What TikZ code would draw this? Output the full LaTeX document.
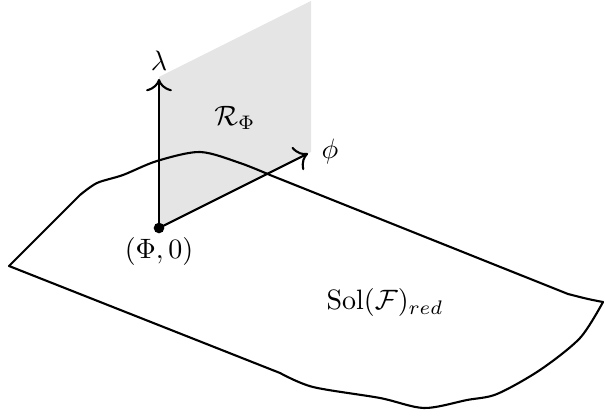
\documentclass[tikz,border=0pt]{standalone}
\usetikzlibrary{arrows.meta}
\begin{document}
\begin{tikzpicture}[x=0.357pt,y=-0.357pt,
  edge/.style={line width=0.75pt},
  axis/.style={line width=0.75pt,-{To[scale=1.35]}},
  lbl/.style={inner sep=0pt}]
\useasboundingbox (0,0) rectangle (605,416);
% plane
\fill[gray!20] (159,228) -- (159,77) -- (311,1) -- (311,152) -- cycle;
% surface
\draw[edge,line join=round]
  (9,266) -- (80,195)
  -- plot[smooth,tension=0.5] coordinates {(80,195) (97,183) (123,175) (157,161) (200,152) (240,163) (270,175)}
  -- (568,294)
  -- plot[smooth,tension=0.6] coordinates {(568,294) (588,299) (603,302)}
  -- plot[smooth,tension=0.5] coordinates {(603,302) (580,338) (540,370) (497,394) (467,400) (424,408) (380,398) (313,387) (280,373)}
  -- cycle;
% origin and axes
\node[circle,fill,inner sep=0pt,minimum size=3.8pt] (O) at (159,228) {};
\coordinate (L) at (159,79);
\coordinate (P) at (308,153.5);
\draw[axis] (O.center) -- (L);
\draw[axis] (O.center) -- (P);
% labels
\node[lbl] (lam) at (159,61) {$\lambda$};
\node[lbl] (phi) at (330,152) {$\phi$};
\node[lbl] (R) at (235,118) {$\mathcal{R}_\Phi$};
\node[lbl] (orig) at (159,252) {$(\Phi,0)$};
\node[lbl] (sol) at (385,303) {$\mathrm{Sol}(\mathcal{F})_{red}$};
\end{tikzpicture}
\end{document}
